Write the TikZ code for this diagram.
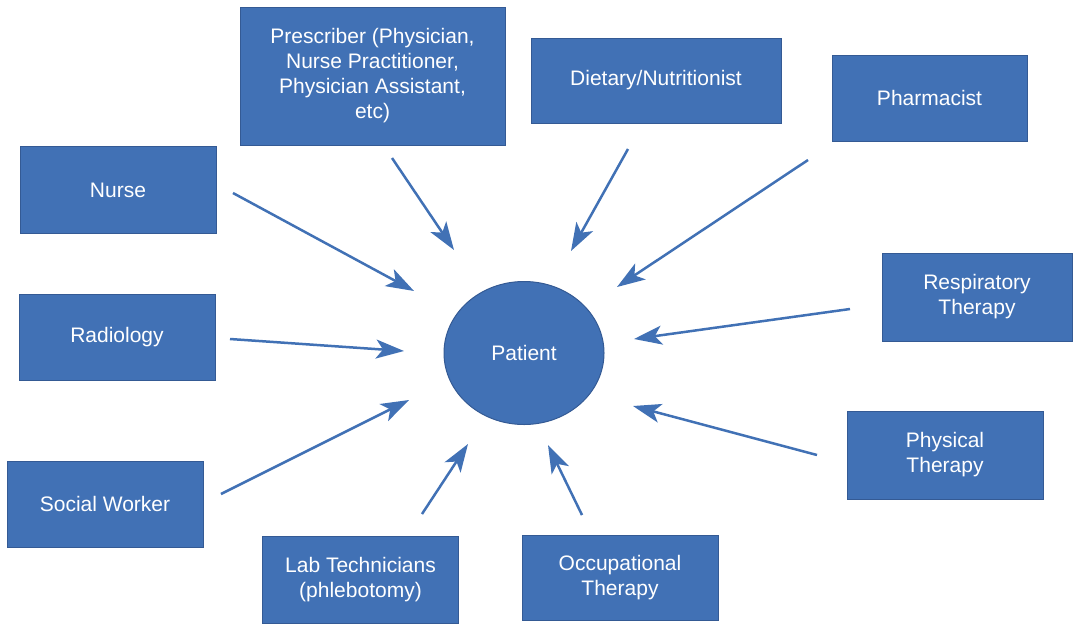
\documentclass[tikz,border=0pt]{standalone}
\usepackage{fontspec}
\setmainfont{Liberation Sans}
\usetikzlibrary{shapes.geometric,arrows.meta}
\definecolor{boxblue}{RGB}{65,113,181}
\definecolor{edgeblue}{RGB}{52,90,148}

\begin{document}
\begin{tikzpicture}[x=1pt, y=-1pt,
        box/.style={draw=edgeblue, line width=1pt, fill=boxblue, text=white, align=center, inner sep=0pt,
            font=\fontsize{21}{25}\selectfont, minimum width=196pt, minimum height=87pt},
        flow/.style={draw=boxblue, line width=2.5pt, -{Stealth[length=28pt, width=19pt, inset=7pt]}}]
        \useasboundingbox (0,0) rectangle (1073,625);
        % the patient in the middle
        \node[ellipse, draw=edgeblue, line width=1pt, fill=boxblue, text=white, inner sep=0pt,
            minimum width=160pt, minimum height=143pt, font=\fontsize{21}{25}\selectfont] (patient) at (524,353) {Patient};
        % care team around it
        \node[box, minimum width=265pt, minimum height=138pt] (prescriber) at (372.5,76) {Prescriber (Physician,\\Nurse Practitioner,\\Physician Assistant,\\etc)};
        \node[box, minimum width=250pt, minimum height=85pt] (dietary) at (656,80.5) {Dietary/Nutritionist};
        \node[box, minimum width=195pt, minimum height=86pt] (pharmacist) at (929.5,98) {Pharmacist};
        \node[box] (nurse) at (118,190) {Nurse};
        \node[box, minimum height=86pt] (radiology) at (117,337) {Radiology};
        \node[box, minimum height=86pt] (social) at (105,504) {Social Worker};
        \node[box] (lab) at (360.5,579.5) {Lab Technicians\\(phlebotomy)};
        \node[box, minimum height=85pt] (occupational) at (620,577.5) {Occupational\\Therapy};
        \node[box, minimum width=190pt, minimum height=88pt] (respiratory) at (977,297) {Respiratory\\Therapy};
        \node[box, minimum height=88pt] (physical) at (945,455) {Physical\\Therapy};
        % arrow ends
        \coordinate (nurse-a) at (233,193);         \coordinate (nurse-b) at (414,291);
        \coordinate (prescriber-a) at (392,158);    \coordinate (prescriber-b) at (454,250);
        \coordinate (dietary-a) at (628,149);       \coordinate (dietary-b) at (571,251);
        \coordinate (pharmacist-a) at (808,160);    \coordinate (pharmacist-b) at (617,287);
        \coordinate (respiratory-a) at (850,309);   \coordinate (respiratory-b) at (634,339);
        \coordinate (physical-a) at (817,455);      \coordinate (physical-b) at (633,406);
        \coordinate (occupational-a) at (582,515);  \coordinate (occupational-b) at (548,445);
        \coordinate (lab-a) at (422,514);           \coordinate (lab-b) at (468,444);
        \coordinate (social-a) at (221,494);        \coordinate (social-b) at (409,400);
        \coordinate (radiology-a) at (230,339);     \coordinate (radiology-b) at (404,351);
        \foreach \n in {nurse,prescriber,dietary,pharmacist,respiratory,physical,occupational,lab,social,radiology}
            \draw[flow] (\n-a) -- (\n-b);
\end{tikzpicture}
\end{document}
